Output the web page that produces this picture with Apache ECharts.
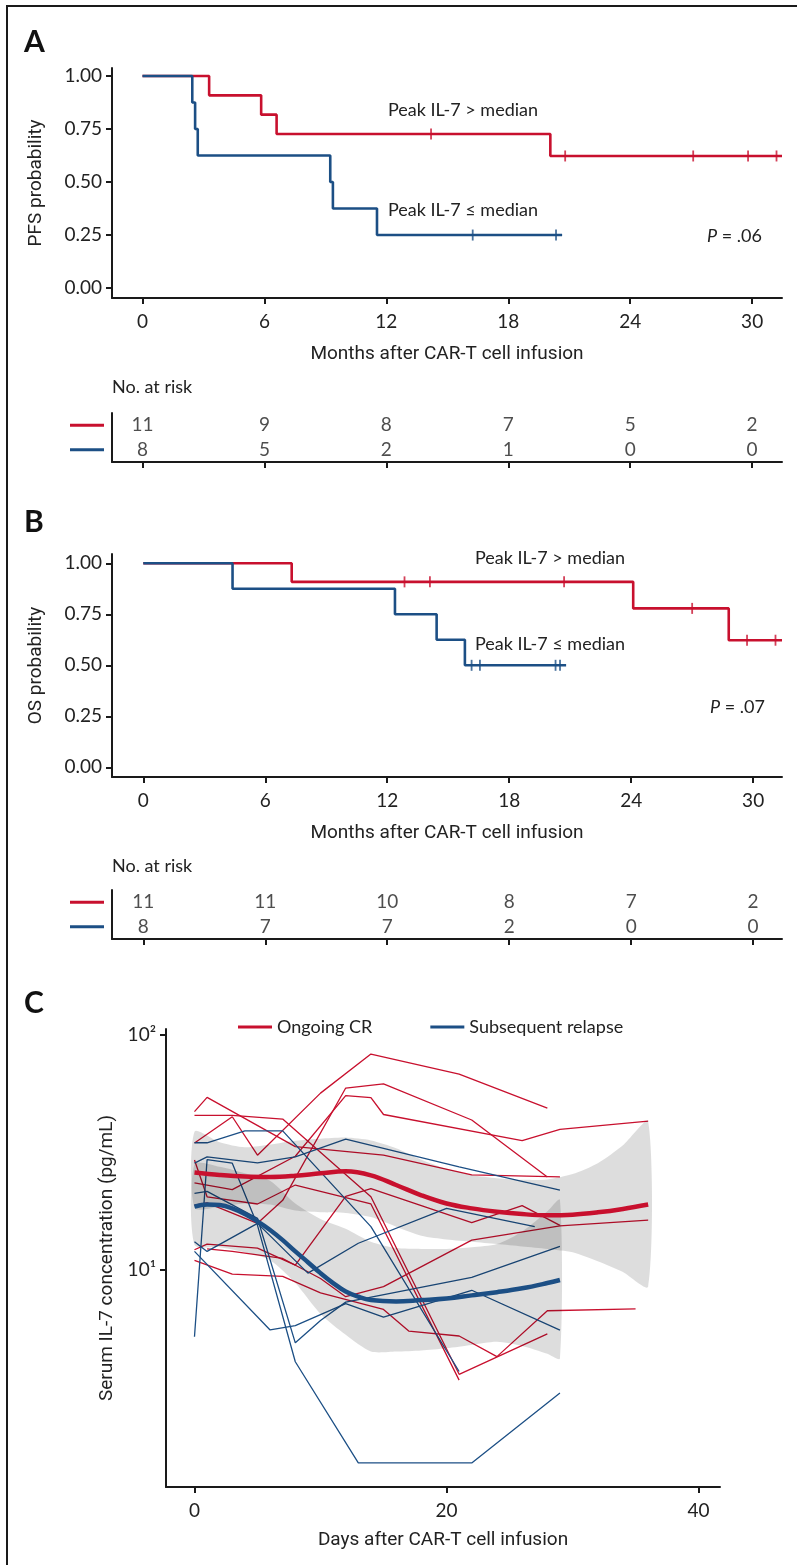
<!DOCTYPE html>
<html>
<head>
<meta charset="UTF-8">
<title></title>
<style>
  html, body { margin: 0; padding: 0; background: #fff; }
  #container { width: 797px; height: 1565px; }
</style>
</head>
<body>
<div id="container"></div>
<script src="https://cdn.jsdelivr.net/npm/echarts@6.0.0/dist/echarts.min.js"></script>
<script>
var red = '#c8102e', blue = '#1c4f85', ink = '#1a1a1a';
var font = 'Lato, "Noto Sans", sans-serif';
var narrow = '"Liberation Sans Narrow", Roboto, sans-serif';

// ---- A / B : Kaplan-Meier curves ----
var monthTicks = [0, 6, 12, 18, 24, 30];
var probTicks = [0, 0.25, 0.5, 0.75, 1];

var pfsHighT = [0, 3.28, 5.84, 6.6, 20.07, 31.47];
var pfsHighS = [1, 0.909, 0.818, 0.727, 0.623, 0.623];
var pfsHighCens = [14.2, 20.8, 27.1, 29.8, 31.2];
var pfsLowT = [0, 2.45, 2.59, 2.72, 9.24, 9.37, 11.54, 20.65];
var pfsLowS = [1, 0.875, 0.75, 0.625, 0.5, 0.375, 0.25, 0.25];
var pfsLowCens = [16.25, 20.35];

var osHighT = [0, 7.3, 24.1, 28.8, 31.42];
var osHighS = [1, 0.909, 0.779, 0.623, 0.623];
var osHighCens = [12.85, 14.1, 20.7, 27.0, 29.7, 31.1];
var osLowT = [0, 4.39, 12.38, 14.43, 15.82, 20.8];
var osLowS = [1, 0.875, 0.75, 0.625, 0.5, 0.5];
var osLowCens = [16.15, 16.56, 20.28, 20.5];

// number at risk
var riskMonths = [0, 6, 12, 18, 24, 30];
var pfsRiskHigh = [11, 9, 8, 7, 5, 2];
var pfsRiskLow = [8, 5, 2, 1, 0, 0];
var osRiskHigh = [11, 11, 10, 8, 7, 2];
var osRiskLow = [8, 7, 7, 2, 0, 0];

// ---- C : serum IL-7 ----
var dayTicks = [0, 20, 40];
var crDays = [
  [0, 3, 5, 10, 14, 21, 28],
  [0, 1, 8, 15, 22, 29],
  [0, 3, 7, 14, 21, 28],
  [0, 1, 5, 7, 12, 15, 22, 28],
  [0, 3, 8, 12, 14, 15, 26, 29, 36],
  [0, 1, 5, 8, 12, 14, 22, 26, 29],
  [0, 3, 7, 10, 15, 17, 21, 24, 28, 35],
  [1, 3, 7, 10, 12, 15, 22, 29, 36],
  [0, 1, 5, 8, 14, 21]
];
var crIL7 = [
  [34.7, 44.9, 30.8, 56.6, 83, 68.2, 48.9],
  [47.2, 54.3, 33.5, 30.8, 25.4, 24.9],
  [45.5, 45.5, 43.9, 20.5, 3.6, 5.35],
  [18.9, 19.3, 15.8, 19.8, 59.5, 62, 43.5, 24.9],
  [23.5, 22, 30.5, 55.2, 54.2, 45.9, 35.5, 39.7, 43],
  [12.2, 12.9, 12.4, 10.5, 20.6, 22.2, 15.9, 18.8, 15.5],
  [11.0, 9.6, 9.4, 8.0, 6.8, 5.5, 5.24, 4.28, 6.71, 6.84],
  [12.3, 12.0, 11.2, 9.2, 7.7, 8.5, 13.4, 15.4, 16.3],
  [29.4, 20.5, 19.1, 23, 19.1, 3.4]
];
var relDays = [
  [0, 1, 4, 7, 14, 21],
  [0, 1, 5, 8, 12, 21, 29],
  [0, 1, 5, 8, 10, 12, 22, 29],
  [0, 1, 3, 5, 8, 13, 22, 29],
  [0, 6, 8, 12, 15, 22, 29],
  [0, 1, 5, 9, 13, 20, 27]
];
var relIL7 = [
  [34.8, 34.8, 39.1, 39.1, 15.3, 3.7],
  [28.5, 30.3, 28.6, 30.3, 36.1, 27.5, 21.9],
  [21.2, 21.6, 16.6, 4.9, 6.1, 7.3, 9.3, 12.6],
  [5.2, 29.5, 28.5, 15.5, 4.07, 1.51, 1.51, 3.0],
  [12.0, 5.56, 5.8, 7.2, 6.3, 8.2, 5.55],
  [13.2, 12.0, 15.8, 9.7, 13.0, 18.3, 15.3]
];

// loess fits and their confidence bands
var crFitDays = [0, 2, 4, 6, 8, 10, 12, 14, 16, 18, 20, 22, 24, 26, 28, 30, 32, 34, 36];
var crFit = [26.0, 25.4, 25.0, 24.9, 25.2, 25.8, 26.3, 25.3, 23.0, 20.8, 19.2, 18.3, 17.7, 17.3, 17.1, 17.2, 17.6, 18.2, 19.0];
var crBandHi = [38.8, 35.0, 33.3, 34.2, 35.5, 36.2, 36.6, 35.6, 33.0, 29.5, 27.0, 25.4, 24.6, 24.2, 24.3, 25.6, 28.5, 34.0, 42.8];
var crBandLo = [18.4, 18.6, 19.2, 19.0, 17.9, 17.6, 17.5, 16.8, 15.3, 14.0, 13.5, 13.2, 12.9, 12.6, 12.3, 11.9, 10.9, 9.8, 8.5];

var relFitDays = [0, 1, 2, 3, 4, 5, 6, 7, 8, 9, 10, 11, 12, 13, 14, 16, 18, 20, 22, 24, 26, 28, 29];
var relFit = [18.6, 19.0, 18.9, 18.3, 17.3, 16.1, 14.8, 13.4, 12.0, 10.8, 9.7, 8.8, 8.1, 7.7, 7.45, 7.35, 7.45, 7.57, 7.8, 8.05, 8.36, 8.8, 9.07];
var relBandDays = [0, 2, 4, 6, 8, 10, 12, 14, 16, 18, 20, 22, 24, 26, 28, 29];
var relBandHi = [28.2, 27.5, 25.8, 24.0, 19.2, 16.5, 15.0, 13.2, 12.4, 12.3, 12.3, 12.5, 12.9, 14.6, 17.8, 19.9];
var relBandLo = [12.8, 12.5, 11.9, 11.0, 8.8, 6.5, 5.3, 4.5, 4.5, 4.55, 4.65, 4.8, 4.95, 4.75, 4.4, 4.2];

function pairs(xs, ys) { return xs.map(function (x, i) { return [x, ys[i]]; }); }
function survAt(T, S, t) {
  var s = S[0];
  for (var i = 0; i < T.length; i++) if (T[i] <= t) s = S[i];
  return s;
}

var axisLineStyle = { color: ink, width: 2 };
var tickText = { fontFamily: font, fontSize: 19, color: '#222' };
var titleText = { fontFamily: narrow, fontSize: 19, color: '#222' };

function kmX(g, min, max) {
  return {
    gridIndex: g, type: 'value', min: min, max: max,
    axisLine: { show: true, onZero: false, lineStyle: axisLineStyle },
    axisTick: { show: true, customValues: monthTicks, length: 6, lineStyle: axisLineStyle },
    axisLabel: Object.assign({ customValues: monthTicks, margin: 14 }, tickText),
    splitLine: { show: false },
    name: 'Months after CAR-T cell infusion', nameLocation: 'middle', nameGap: 47,
    nameTextStyle: titleText
  };
}
function kmY(g, min, max, name) {
  return {
    gridIndex: g, type: 'value', min: min, max: max,
    axisLine: { show: true, onZero: false, lineStyle: axisLineStyle },
    axisTick: { show: true, customValues: probTicks, length: 6, lineStyle: axisLineStyle },
    axisLabel: Object.assign({ customValues: probTicks, margin: 10, formatter: function (v) { return v.toFixed(2); } }, tickText),
    splitLine: { show: false },
    name: name, nameLocation: 'middle', nameGap: 66, nameTextStyle: titleText
  };
}
function riskX(g, min, max) {
  return {
    gridIndex: g, type: 'value', min: min, max: max,
    axisLine: { show: true, onZero: false, lineStyle: axisLineStyle },
    axisTick: { show: true, customValues: monthTicks, length: 6, lineStyle: axisLineStyle },
    axisLabel: { show: false },
    splitLine: { show: false }
  };
}
function riskY(g) {
  return {
    gridIndex: g, type: 'category', data: ['low', 'high'],
    axisLine: { show: true, onZero: false, lineStyle: axisLineStyle },
    axisTick: { show: false },
    axisLabel: {
      margin: 8,
      formatter: function (v) { return v === 'high' ? '{r|}' : '{b|}'; },
      rich: {
        r: { width: 34, height: 3, backgroundColor: red },
        b: { width: 34, height: 3, backgroundColor: blue }
      }
    }
  };
}

function kmSeries(g, T, S, cens, color) {
  return [{
    type: 'line', xAxisIndex: g, yAxisIndex: g, step: 'end', symbol: 'none',
    data: pairs(T, S), lineStyle: { color: color, width: 2.6 }, z: 3
  }, {
    type: 'scatter', xAxisIndex: g, yAxisIndex: g, symbol: 'rect', symbolSize: [1.8, 11],
    data: cens.map(function (t) { return [t, survAt(T, S, t)]; }),
    itemStyle: { color: color }, z: 4
  }];
}
function riskSeries(g, hi, lo) {
  var data = riskMonths.map(function (m, i) { return [m, 'high', hi[i]]; })
    .concat(riskMonths.map(function (m, i) { return [m, 'low', lo[i]]; }));
  return {
    type: 'scatter', xAxisIndex: g, yAxisIndex: g, symbolSize: 1,
    itemStyle: { color: 'transparent' }, data: data,
    label: Object.assign({ show: true, position: 'inside', formatter: function (p) { return p.value[2]; } }, tickText)
  };
}
function bandSeries(days, lo, hi) {
  return {
    type: 'custom', xAxisIndex: 4, yAxisIndex: 4, z: 3, silent: true,
    data: days.map(function (d, i) { return [d, lo[i], hi[i]]; }),
    encode: { x: 0, y: [1, 2] },
    renderItem: function (params, api) {
      if (params.dataIndex !== 0) return;
      var up = days.map(function (d, i) { return api.coord([d, hi[i]]); });
      var dn = days.map(function (d, i) { return api.coord([d, lo[i]]); }).reverse();
      return {
        type: 'polygon',
        shape: { points: up.concat(dn), smooth: 0.25 },
        style: { fill: 'rgba(0,0,0,0.135)', stroke: null }
      };
    }
  };
}

var series = [];
series = series.concat(kmSeries(0, pfsHighT, pfsHighS, pfsHighCens, red));
series = series.concat(kmSeries(0, pfsLowT, pfsLowS, pfsLowCens, blue));
series.push(riskSeries(1, pfsRiskHigh, pfsRiskLow));
series = series.concat(kmSeries(2, osHighT, osHighS, osHighCens, red));
series = series.concat(kmSeries(2, osLowT, osLowS, osLowCens, blue));
series.push(riskSeries(3, osRiskHigh, osRiskLow));

crDays.forEach(function (d, i) {
  series.push({
    name: 'Ongoing CR', type: 'line', xAxisIndex: 4, yAxisIndex: 4, symbol: 'none', z: 2,
    data: pairs(d, crIL7[i]), lineStyle: { color: red, width: 1.3 }, itemStyle: { color: red }
  });
});
relDays.forEach(function (d, i) {
  series.push({
    name: 'Subsequent relapse', type: 'line', xAxisIndex: 4, yAxisIndex: 4, symbol: 'none', z: 2,
    data: pairs(d, relIL7[i]), lineStyle: { color: blue, width: 1.3 }, itemStyle: { color: blue }
  });
});
series.push(bandSeries(crFitDays, crBandLo, crBandHi));
series.push(bandSeries(relBandDays, relBandLo, relBandHi));
series.push({
  name: 'crFit', type: 'line', xAxisIndex: 4, yAxisIndex: 4, symbol: 'none', smooth: 0.4, z: 5,
  data: pairs(crFitDays, crFit), lineStyle: { color: red, width: 4.5 }
});
series.push({
  name: 'relFit', type: 'line', xAxisIndex: 4, yAxisIndex: 4, symbol: 'none', smooth: 0.4, z: 5,
  data: pairs(relFitDays, relFit), lineStyle: { color: blue, width: 4.5 }
});

function label(x, y, text, align) {
  return {
    type: 'text', x: x, y: y,
    style: { text: text, fontFamily: font, fontSize: 18, fill: '#222', align: align || 'left', verticalAlign: 'middle',
      rich: { i: { fontFamily: font, fontSize: 18, fontStyle: 'italic', fill: '#222' } } }
  };
}
function letter(y, t) {
  return { type: 'text', x: 24, y: y, style: { text: t, fontFamily: font, fontWeight: 'bold', fontSize: 30, fill: '#111', verticalAlign: 'middle' } };
}

var myChart = echarts.init(document.getElementById('container'), null, { renderer: 'canvas' });
myChart.setOption({
  animation: false,
  backgroundColor: '#fff',
  grid: [
    { left: 112, top: 68, width: 670, height: 230 },
    { left: 112, top: 413, width: 670, height: 49 },
    { left: 112, top: 554, width: 670, height: 223 },
    { left: 112, top: 890, width: 670, height: 49 },
    { left: 166, top: 1029, width: 554, height: 458 }
  ],
  xAxis: [
    kmX(0, -1.5, 31.47),
    riskX(1, -1.5, 31.47),
    kmX(2, -1.54, 31.42),
    riskX(3, -1.54, 31.42),
    {
      gridIndex: 4, type: 'value', min: -2.26, max: 41.7,
      axisLine: { show: true, onZero: false, lineStyle: axisLineStyle },
      axisTick: { show: true, customValues: dayTicks, length: 6, lineStyle: axisLineStyle },
      axisLabel: Object.assign({ customValues: dayTicks, margin: 14 }, tickText),
      splitLine: { show: false },
      name: 'Days after CAR-T cell infusion', nameLocation: 'middle', nameGap: 44, nameTextStyle: titleText
    }
  ],
  yAxis: [
    kmY(0, -0.047, 1.038, 'PFS probability'),
    riskY(1),
    kmY(2, -0.0475, 1.0456, 'OS probability'),
    riskY(3),
    {
      gridIndex: 4, type: 'log', logBase: 10, min: 1.193, max: 106.1,
      axisLine: { show: true, onZero: false, lineStyle: axisLineStyle },
      axisTick: { show: true, customValues: [10, 100], length: 6, lineStyle: axisLineStyle },
      axisLabel: Object.assign({ customValues: [10, 100], margin: 10, formatter: function (v) {
        return Math.round(Math.log10(v)) === 2 ? '10\u00b2' : '10\u00b9';
      } }, tickText),
      splitLine: { show: false },
      name: 'Serum IL-7 concentration (pg/mL)', nameLocation: 'middle', nameGap: 30, nameTextStyle: titleText
    }
  ],
  legend: {
    data: ['Ongoing CR', 'Subsequent relapse'],
    left: 233, top: 1013, icon: 'rect', itemWidth: 34, itemHeight: 3, itemGap: 58,
    textStyle: { fontFamily: font, fontSize: 18, color: '#222' }
  },
  graphic: [
    { type: 'line', shape: { x1: 7, y1: 5, x2: 7, y2: 1565 }, style: { stroke: ink, lineWidth: 2 } },
    { type: 'line', shape: { x1: 6, y1: 6, x2: 797, y2: 6 }, style: { stroke: ink, lineWidth: 2 } },
    letter(42, 'A'), letter(522, 'B'), letter(1003, 'C'),
    label(388, 110, 'Peak IL-7 > median'),
    label(388, 210, 'Peak IL-7 \u2264 median'),
    label(762, 236, '{i|P} = .06', 'right'),
    label(112, 387, 'No. at risk'),
    label(475, 558, 'Peak IL-7 > median'),
    label(475, 644, 'Peak IL-7 \u2264 median'),
    label(765, 707, '{i|P} = .07', 'right'),
    label(112, 866, 'No. at risk')
  ],
  series: series
});
</script>
</body>
</html>
